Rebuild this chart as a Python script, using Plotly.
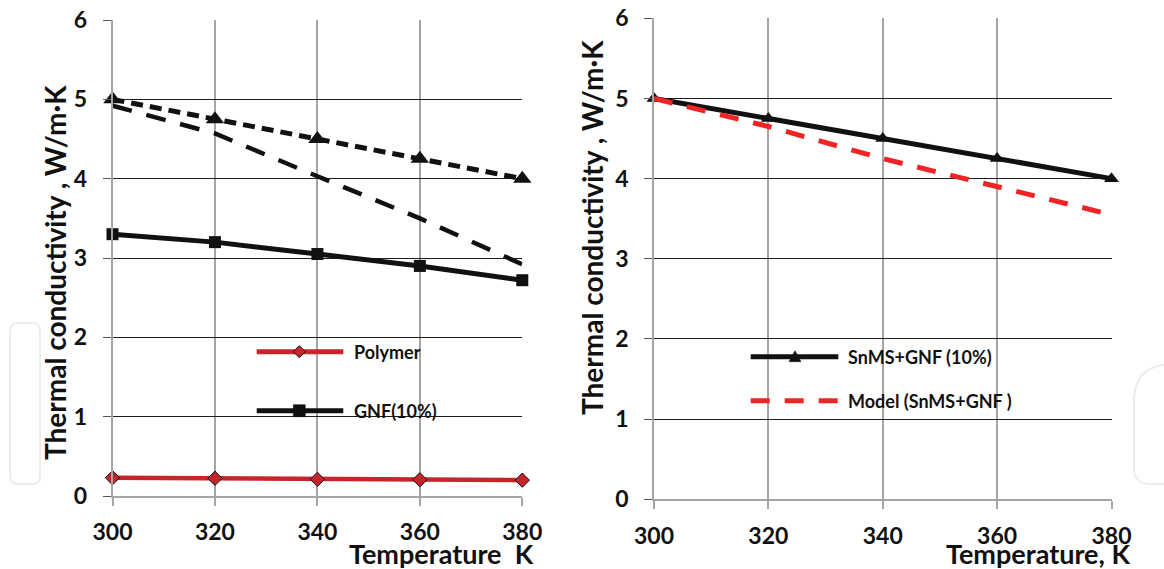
import plotly.graph_objects as go

W, H = 1164, 569

# ---------------- data ----------------
temps = [300, 320, 340, 360, 380]
# left panel
snms_gnf_left = [5.0, 4.75, 4.5, 4.25, 4.0]       # short dashes + triangles
model_left = [4.92, 4.57, 4.03, 3.5, 2.92]         # long dashes, no markers
gnf10 = [3.3, 3.2, 3.05, 2.9, 2.72]                # squares
polymer = [0.23, 0.223, 0.21, 0.205, 0.2]          # red diamonds
# right panel
snms_gnf_right = [5.0, 4.75, 4.5, 4.25, 4.0]
model_right = [5.0, 4.65, 4.25, 3.9, 3.55]

x_ticks = [300, 320, 340, 360, 380]
y_ticks = [0, 1, 2, 3, 4, 5, 6]

FONT = "Lato"
BLACK = "#111111"
RED_DARK = "#c4262c"
RED = "#f02424"
VGRID = "#a9a4a4"
HGRID = "#1e1e1e"


def px(x):
    return x / W


def py(y):
    return 1 - y / H


fig = go.Figure()

# left panel traces
fig.add_trace(go.Scatter(x=temps, y=model_left, mode="lines",
                         line=dict(color=BLACK, width=4.5, dash="20px,15px"),
                         xaxis="x", yaxis="y", showlegend=False, cliponaxis=False))
fig.add_trace(go.Scatter(x=temps, y=snms_gnf_left, mode="lines+markers",
                         line=dict(color=BLACK, width=5, dash="12px,7px"),
                         marker=dict(symbol="triangle-up", size=16, color=BLACK),
                         xaxis="x", yaxis="y", showlegend=False, cliponaxis=False))
fig.add_trace(go.Scatter(x=temps, y=gnf10, mode="lines+markers",
                         line=dict(color=BLACK, width=5),
                         marker=dict(symbol="square", size=12, color=BLACK),
                         xaxis="x", yaxis="y", showlegend=False, cliponaxis=False))
fig.add_trace(go.Scatter(x=temps, y=polymer, mode="lines+markers",
                         line=dict(color=RED_DARK, width=4.5),
                         marker=dict(symbol="diamond", size=11, color=RED_DARK,
                                     line=dict(color=BLACK, width=1)),
                         xaxis="x", yaxis="y", showlegend=False, cliponaxis=False))

# right panel traces
fig.add_trace(go.Scatter(x=temps, y=snms_gnf_right, mode="lines+markers",
                         line=dict(color=BLACK, width=5),
                         marker=dict(symbol="triangle-up", size=13, color=BLACK),
                         xaxis="x2", yaxis="y2", showlegend=False, cliponaxis=False))
fig.add_trace(go.Scatter(x=temps, y=model_right, mode="lines",
                         line=dict(color=RED, width=5, dash="19px,15px"),
                         xaxis="x2", yaxis="y2", showlegend=False, cliponaxis=False))

tickfont = dict(family=FONT, size=23, color=BLACK)


def xaxis_cfg(domain, anchor):
    return dict(domain=domain, anchor=anchor, range=[300, 380], tickvals=x_ticks,
                ticktext=[f"<b>{v}</b>" for v in x_ticks],
                showgrid=True, gridcolor=VGRID, gridwidth=1.5,
                showline=True, linecolor=VGRID, linewidth=1.5,
                ticks="outside", ticklen=8, tickcolor=VGRID, tickwidth=1.5,
                tickfont=tickfont, zeroline=False, ticklabelstandoff=7,
                automargin=False)


def yaxis_cfg(domain, anchor):
    return dict(domain=domain, anchor=anchor, range=[0, 6], tickvals=y_ticks,
                ticktext=[f"<b>{v}</b>" for v in y_ticks],
                showgrid=True, gridcolor=HGRID, gridwidth=1.3,
                showline=True, linecolor=VGRID, linewidth=1.5,
                ticks="outside", ticklen=8, tickcolor="#555555", tickwidth=1.3,
                tickfont=tickfont, zeroline=False, ticklabelstandoff=11,
                automargin=False)


fig.update_layout(
    width=W, height=H,
    margin=dict(l=0, r=0, t=0, b=0, autoexpand=False),
    paper_bgcolor="white", plot_bgcolor="white",
    showlegend=False,
    xaxis=xaxis_cfg([px(112.5), px(522.3)], "y"),
    yaxis=yaxis_cfg([py(496), py(20)], "x"),
    xaxis2=xaxis_cfg([px(654), px(1111.5)], "y2"),
    yaxis2=yaxis_cfg([py(499.3), py(18.3)], "x2"),
)

# ---------------- axis titles ----------------
title_font = dict(family=FONT, size=28, color=BLACK)
xt_font = dict(family=FONT, size=27, color=BLACK)
annos = [
    dict(text="<b>Thermal conductivity , W/m·K</b>", x=px(55), y=py(273), textangle=-90,
         font=title_font),
    dict(text="<b>Thermal conductivity , W/m·K</b>", x=px(592), y=py(228), textangle=-90,
         font=title_font),
    dict(text="<b>Temperature\u00a0\u00a0K</b>", x=px(536), y=py(553), xanchor="right",
         font=xt_font),
    dict(text="<b>Temperature, K</b>", x=px(1132), y=py(553), xanchor="right", font=xt_font),
]

# ---------------- custom legends ----------------
leg_font = dict(family=FONT, size=18, color=BLACK)
legend_items = [
    # (y, text, color, dash, marker, text_x, x0, x1, marker_x)
    (351.7, "Polymer", RED_DARK, None, "diamond", 351.7, 256.7, 343.3, 299.3),
    (410.7, "GNF(10%)", BLACK, None, "square", 351.7, 256.7, 343.3, 299.3),
    (356.7, "SnMS+GNF (10%)", BLACK, None, "triangle", 846, 750.7, 838.3, 795),
    (400.7, "Model (SnMS+GNF )", RED, "19px,15px", None, 846, 750.7, 838.3, 795),
]

shapes = []
for (ly, txt, col, dash, mk, tx, x0, x1, mx) in legend_items:
    line = dict(color=col, width=5)
    if dash:
        line["dash"] = dash
    shapes.append(dict(type="line", xref="paper", yref="paper",
                       x0=px(x0), x1=px(x1), y0=py(ly), y1=py(ly), line=line))
    if mk:
        if mk == "diamond":
            path = "M -6,0 L 0,6 L 6,0 L 0,-6 Z"
            fill, lc, lw = RED_DARK, BLACK, 1
        elif mk == "square":
            path = "M -6,-6 L 6,-6 L 6,6 L -6,6 Z"
            fill, lc, lw = BLACK, BLACK, 0.5
        else:
            path = "M -6,-5 L 6,-5 L 0,6 Z"
            fill, lc, lw = BLACK, BLACK, 0.5
        shapes.append(dict(type="path", xref="paper", yref="paper",
                           xsizemode="pixel", ysizemode="pixel",
                           xanchor=px(mx), yanchor=py(ly), path=path,
                           fillcolor=fill, line=dict(color=lc, width=lw)))
    annos.append(dict(text=f"<b>{txt}</b>", x=px(tx), y=py(ly), xanchor="left",
                      yanchor="middle", font=leg_font))

# faint watermark outlines
shapes.append(dict(type="path", xref="paper", yref="paper", layer="below",
                   path=(f"M {px(18)},{py(323)} L {px(32)},{py(323)} "
                         f"Q {px(40)},{py(323)} {px(40)},{py(331)} L {px(40)},{py(476)} "
                         f"Q {px(40)},{py(484)} {px(32)},{py(484)} L {px(18)},{py(484)} "
                         f"Q {px(10)},{py(484)} {px(10)},{py(476)} L {px(10)},{py(331)} "
                         f"Q {px(10)},{py(323)} {px(18)},{py(323)} Z"),
                   line=dict(color="#ececec", width=2)))
shapes.append(dict(type="path", xref="paper", yref="paper", layer="below",
                   path=(f"M {px(1164)},{py(365)} Q {px(1135)},{py(368)} {px(1134)},{py(400)} "
                         f"L {px(1134)},{py(470)} Q {px(1135)},{py(484)} {px(1150)},{py(484)} "
                         f"L {px(1164)},{py(484)}"),
                   line=dict(color="#ececec", width=2)))

for a in annos:
    a.setdefault("xref", "paper")
    a.setdefault("yref", "paper")
    a.setdefault("showarrow", False)
    a.setdefault("xanchor", "center")
    a.setdefault("yanchor", "middle")

fig.update_layout(annotations=annos, shapes=shapes)

fig.write_html("out.html")
